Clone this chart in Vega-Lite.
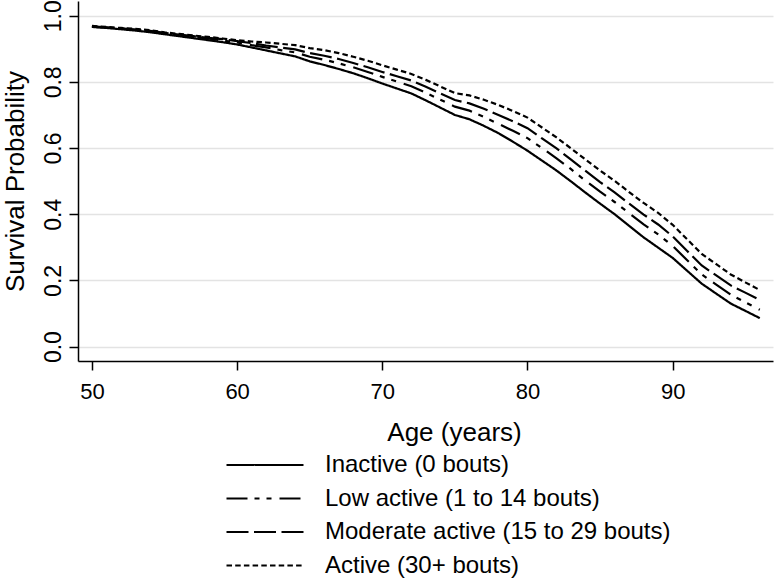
{
  "$schema": "https://vega.github.io/schema/vega-lite/v6.json",
  "width": 695,
  "height": 360,
  "autosize": {"type": "none"},
  "padding": {"left": 78, "top": 1, "right": 1, "bottom": 219},
  "background": "white",
  "config": {
    "font": "Liberation Sans",
    "view": {"stroke": null},
    "axis": {"labelColor": "black", "titleColor": "black", "domainColor": "black", "tickColor": "black", "titleFontWeight": "normal"}
  },
  "data": {
    "values": [
      {"age":50,"g":"Inactive (0 bouts)","s":0.966},{"age":51,"g":"Inactive (0 bouts)","s":0.963},{"age":52,"g":"Inactive (0 bouts)","s":0.959},{"age":53,"g":"Inactive (0 bouts)","s":0.955},{"age":54,"g":"Inactive (0 bouts)","s":0.950},{"age":55,"g":"Inactive (0 bouts)","s":0.944},{"age":56,"g":"Inactive (0 bouts)","s":0.938},{"age":57,"g":"Inactive (0 bouts)","s":0.932},{"age":58,"g":"Inactive (0 bouts)","s":0.926},{"age":59,"g":"Inactive (0 bouts)","s":0.920},{"age":60,"g":"Inactive (0 bouts)","s":0.913},{"age":61,"g":"Inactive (0 bouts)","s":0.904},{"age":62,"g":"Inactive (0 bouts)","s":0.895},{"age":63,"g":"Inactive (0 bouts)","s":0.886},{"age":64,"g":"Inactive (0 bouts)","s":0.877},{"age":65,"g":"Inactive (0 bouts)","s":0.862},{"age":66,"g":"Inactive (0 bouts)","s":0.851},{"age":67,"g":"Inactive (0 bouts)","s":0.839},{"age":68,"g":"Inactive (0 bouts)","s":0.826},{"age":69,"g":"Inactive (0 bouts)","s":0.811},{"age":70,"g":"Inactive (0 bouts)","s":0.795},{"age":71,"g":"Inactive (0 bouts)","s":0.780},{"age":72,"g":"Inactive (0 bouts)","s":0.765},{"age":73,"g":"Inactive (0 bouts)","s":0.744},{"age":74,"g":"Inactive (0 bouts)","s":0.722},{"age":75,"g":"Inactive (0 bouts)","s":0.700},{"age":76,"g":"Inactive (0 bouts)","s":0.687},{"age":77,"g":"Inactive (0 bouts)","s":0.667},{"age":78,"g":"Inactive (0 bouts)","s":0.645},{"age":79,"g":"Inactive (0 bouts)","s":0.619},{"age":80,"g":"Inactive (0 bouts)","s":0.592},{"age":81,"g":"Inactive (0 bouts)","s":0.562},{"age":82,"g":"Inactive (0 bouts)","s":0.532},{"age":83,"g":"Inactive (0 bouts)","s":0.499},{"age":84,"g":"Inactive (0 bouts)","s":0.465},{"age":85,"g":"Inactive (0 bouts)","s":0.432},{"age":86,"g":"Inactive (0 bouts)","s":0.400},{"age":87,"g":"Inactive (0 bouts)","s":0.365},{"age":88,"g":"Inactive (0 bouts)","s":0.330},{"age":89,"g":"Inactive (0 bouts)","s":0.299},{"age":90,"g":"Inactive (0 bouts)","s":0.268},{"age":91,"g":"Inactive (0 bouts)","s":0.229},{"age":92,"g":"Inactive (0 bouts)","s":0.190},{"age":93,"g":"Inactive (0 bouts)","s":0.160},{"age":94,"g":"Inactive (0 bouts)","s":0.130},{"age":95,"g":"Inactive (0 bouts)","s":0.108},{"age":96,"g":"Inactive (0 bouts)","s":0.086},

      {"age":50,"g":"Low active (1 to 14 bouts)","s":0.967},{"age":51,"g":"Low active (1 to 14 bouts)","s":0.964},{"age":52,"g":"Low active (1 to 14 bouts)","s":0.961},{"age":53,"g":"Low active (1 to 14 bouts)","s":0.957},{"age":54,"g":"Low active (1 to 14 bouts)","s":0.952},{"age":55,"g":"Low active (1 to 14 bouts)","s":0.947},{"age":56,"g":"Low active (1 to 14 bouts)","s":0.941},{"age":57,"g":"Low active (1 to 14 bouts)","s":0.936},{"age":58,"g":"Low active (1 to 14 bouts)","s":0.931},{"age":59,"g":"Low active (1 to 14 bouts)","s":0.925},{"age":60,"g":"Low active (1 to 14 bouts)","s":0.919},{"age":61,"g":"Low active (1 to 14 bouts)","s":0.911},{"age":62,"g":"Low active (1 to 14 bouts)","s":0.904},{"age":63,"g":"Low active (1 to 14 bouts)","s":0.896},{"age":64,"g":"Low active (1 to 14 bouts)","s":0.889},{"age":65,"g":"Low active (1 to 14 bouts)","s":0.876},{"age":66,"g":"Low active (1 to 14 bouts)","s":0.867},{"age":67,"g":"Low active (1 to 14 bouts)","s":0.856},{"age":68,"g":"Low active (1 to 14 bouts)","s":0.844},{"age":69,"g":"Low active (1 to 14 bouts)","s":0.830},{"age":70,"g":"Low active (1 to 14 bouts)","s":0.815},{"age":71,"g":"Low active (1 to 14 bouts)","s":0.801},{"age":72,"g":"Low active (1 to 14 bouts)","s":0.787},{"age":73,"g":"Low active (1 to 14 bouts)","s":0.767},{"age":74,"g":"Low active (1 to 14 bouts)","s":0.746},{"age":75,"g":"Low active (1 to 14 bouts)","s":0.725},{"age":76,"g":"Low active (1 to 14 bouts)","s":0.713},{"age":77,"g":"Low active (1 to 14 bouts)","s":0.694},{"age":78,"g":"Low active (1 to 14 bouts)","s":0.673},{"age":79,"g":"Low active (1 to 14 bouts)","s":0.652},{"age":80,"g":"Low active (1 to 14 bouts)","s":0.630},{"age":81,"g":"Low active (1 to 14 bouts)","s":0.600},{"age":82,"g":"Low active (1 to 14 bouts)","s":0.569},{"age":83,"g":"Low active (1 to 14 bouts)","s":0.536},{"age":84,"g":"Low active (1 to 14 bouts)","s":0.501},{"age":85,"g":"Low active (1 to 14 bouts)","s":0.468},{"age":86,"g":"Low active (1 to 14 bouts)","s":0.437},{"age":87,"g":"Low active (1 to 14 bouts)","s":0.403},{"age":88,"g":"Low active (1 to 14 bouts)","s":0.369},{"age":89,"g":"Low active (1 to 14 bouts)","s":0.339},{"age":90,"g":"Low active (1 to 14 bouts)","s":0.304},{"age":91,"g":"Low active (1 to 14 bouts)","s":0.261},{"age":92,"g":"Low active (1 to 14 bouts)","s":0.218},{"age":93,"g":"Low active (1 to 14 bouts)","s":0.187},{"age":94,"g":"Low active (1 to 14 bouts)","s":0.157},{"age":95,"g":"Low active (1 to 14 bouts)","s":0.134},{"age":96,"g":"Low active (1 to 14 bouts)","s":0.111},

      {"age":50,"g":"Moderate active (15 to 29 bouts)","s":0.968},{"age":51,"g":"Moderate active (15 to 29 bouts)","s":0.965},{"age":52,"g":"Moderate active (15 to 29 bouts)","s":0.962},{"age":53,"g":"Moderate active (15 to 29 bouts)","s":0.958},{"age":54,"g":"Moderate active (15 to 29 bouts)","s":0.954},{"age":55,"g":"Moderate active (15 to 29 bouts)","s":0.948},{"age":56,"g":"Moderate active (15 to 29 bouts)","s":0.943},{"age":57,"g":"Moderate active (15 to 29 bouts)","s":0.938},{"age":58,"g":"Moderate active (15 to 29 bouts)","s":0.933},{"age":59,"g":"Moderate active (15 to 29 bouts)","s":0.929},{"age":60,"g":"Moderate active (15 to 29 bouts)","s":0.923},{"age":61,"g":"Moderate active (15 to 29 bouts)","s":0.917},{"age":62,"g":"Moderate active (15 to 29 bouts)","s":0.910},{"age":63,"g":"Moderate active (15 to 29 bouts)","s":0.904},{"age":64,"g":"Moderate active (15 to 29 bouts)","s":0.898},{"age":65,"g":"Moderate active (15 to 29 bouts)","s":0.887},{"age":66,"g":"Moderate active (15 to 29 bouts)","s":0.879},{"age":67,"g":"Moderate active (15 to 29 bouts)","s":0.869},{"age":68,"g":"Moderate active (15 to 29 bouts)","s":0.857},{"age":69,"g":"Moderate active (15 to 29 bouts)","s":0.844},{"age":70,"g":"Moderate active (15 to 29 bouts)","s":0.830},{"age":71,"g":"Moderate active (15 to 29 bouts)","s":0.817},{"age":72,"g":"Moderate active (15 to 29 bouts)","s":0.804},{"age":73,"g":"Moderate active (15 to 29 bouts)","s":0.785},{"age":74,"g":"Moderate active (15 to 29 bouts)","s":0.765},{"age":75,"g":"Moderate active (15 to 29 bouts)","s":0.745},{"age":76,"g":"Moderate active (15 to 29 bouts)","s":0.735},{"age":77,"g":"Moderate active (15 to 29 bouts)","s":0.719},{"age":78,"g":"Moderate active (15 to 29 bouts)","s":0.700},{"age":79,"g":"Moderate active (15 to 29 bouts)","s":0.681},{"age":80,"g":"Moderate active (15 to 29 bouts)","s":0.660},{"age":81,"g":"Moderate active (15 to 29 bouts)","s":0.629},{"age":82,"g":"Moderate active (15 to 29 bouts)","s":0.599},{"age":83,"g":"Moderate active (15 to 29 bouts)","s":0.565},{"age":84,"g":"Moderate active (15 to 29 bouts)","s":0.531},{"age":85,"g":"Moderate active (15 to 29 bouts)","s":0.497},{"age":86,"g":"Moderate active (15 to 29 bouts)","s":0.466},{"age":87,"g":"Moderate active (15 to 29 bouts)","s":0.432},{"age":88,"g":"Moderate active (15 to 29 bouts)","s":0.399},{"age":89,"g":"Moderate active (15 to 29 bouts)","s":0.369},{"age":90,"g":"Moderate active (15 to 29 bouts)","s":0.333},{"age":91,"g":"Moderate active (15 to 29 bouts)","s":0.289},{"age":92,"g":"Moderate active (15 to 29 bouts)","s":0.245},{"age":93,"g":"Moderate active (15 to 29 bouts)","s":0.215},{"age":94,"g":"Moderate active (15 to 29 bouts)","s":0.185},{"age":95,"g":"Moderate active (15 to 29 bouts)","s":0.163},{"age":96,"g":"Moderate active (15 to 29 bouts)","s":0.141},

      {"age":50,"g":"Active (30+ bouts)","s":0.969},{"age":51,"g":"Active (30+ bouts)","s":0.966},{"age":52,"g":"Active (30+ bouts)","s":0.963},{"age":53,"g":"Active (30+ bouts)","s":0.960},{"age":54,"g":"Active (30+ bouts)","s":0.956},{"age":55,"g":"Active (30+ bouts)","s":0.950},{"age":56,"g":"Active (30+ bouts)","s":0.945},{"age":57,"g":"Active (30+ bouts)","s":0.940},{"age":58,"g":"Active (30+ bouts)","s":0.936},{"age":59,"g":"Active (30+ bouts)","s":0.931},{"age":60,"g":"Active (30+ bouts)","s":0.926},{"age":61,"g":"Active (30+ bouts)","s":0.922},{"age":62,"g":"Active (30+ bouts)","s":0.919},{"age":63,"g":"Active (30+ bouts)","s":0.915},{"age":64,"g":"Active (30+ bouts)","s":0.911},{"age":65,"g":"Active (30+ bouts)","s":0.902},{"age":66,"g":"Active (30+ bouts)","s":0.896},{"age":67,"g":"Active (30+ bouts)","s":0.887},{"age":68,"g":"Active (30+ bouts)","s":0.876},{"age":69,"g":"Active (30+ bouts)","s":0.864},{"age":70,"g":"Active (30+ bouts)","s":0.850},{"age":71,"g":"Active (30+ bouts)","s":0.837},{"age":72,"g":"Active (30+ bouts)","s":0.824},{"age":73,"g":"Active (30+ bouts)","s":0.806},{"age":74,"g":"Active (30+ bouts)","s":0.786},{"age":75,"g":"Active (30+ bouts)","s":0.766},{"age":76,"g":"Active (30+ bouts)","s":0.759},{"age":77,"g":"Active (30+ bouts)","s":0.746},{"age":78,"g":"Active (30+ bouts)","s":0.730},{"age":79,"g":"Active (30+ bouts)","s":0.712},{"age":80,"g":"Active (30+ bouts)","s":0.692},{"age":81,"g":"Active (30+ bouts)","s":0.662},{"age":82,"g":"Active (30+ bouts)","s":0.632},{"age":83,"g":"Active (30+ bouts)","s":0.599},{"age":84,"g":"Active (30+ bouts)","s":0.565},{"age":85,"g":"Active (30+ bouts)","s":0.532},{"age":86,"g":"Active (30+ bouts)","s":0.501},{"age":87,"g":"Active (30+ bouts)","s":0.467},{"age":88,"g":"Active (30+ bouts)","s":0.434},{"age":89,"g":"Active (30+ bouts)","s":0.404},{"age":90,"g":"Active (30+ bouts)","s":0.368},{"age":91,"g":"Active (30+ bouts)","s":0.324},{"age":92,"g":"Active (30+ bouts)","s":0.280},{"age":93,"g":"Active (30+ bouts)","s":0.249},{"age":94,"g":"Active (30+ bouts)","s":0.218},{"age":95,"g":"Active (30+ bouts)","s":0.194},{"age":96,"g":"Active (30+ bouts)","s":0.171}
    ]
  },
  "mark": {"type": "line", "color": "black", "strokeWidth": 2.2, "clip": true},
  "encoding": {
    "x": {
      "field": "age", "type": "quantitative",
      "scale": {"domain": [49.04, 96.91], "nice": false, "zero": false},
      "axis": {
        "values": [50, 60, 70, 80, 90], "grid": false,
        "labelFontSize": 22, "labelBaseline": "alphabetic", "labelPadding": 28,
        "tickSize": 9, "tickWidth": 1.5, "domainWidth": 1.5,
        "title": "Age (years)", "titleFontSize": 26, "titleX": 376, "titleY": 79,
        "titleBaseline": "alphabetic", "titleAlign": "center", "titleAnchor": null
      }
    },
    "y": {
      "field": "s", "type": "quantitative",
      "scale": {"domain": [-0.0436, 1.0444], "nice": false, "zero": false},
      "axis": {
        "values": [0, 0.2, 0.4, 0.6, 0.8, 1.0], "format": ".1f",
        "grid": true, "gridColor": "#e3e3e3", "gridWidth": 1.5,
        "labelFontSize": 23, "labelAngle": 270, "labelAlign": "center", "labelBaseline": "alphabetic", "labelPadding": 9,
        "tickSize": 9, "tickWidth": 1.5, "domainWidth": 1.5,
        "title": "Survival Probability", "titleFontSize": 26, "titleAngle": 270,
        "titleX": -55, "titleY": 180, "titleAlign": "center", "titleBaseline": "alphabetic", "titleAnchor": null
      }
    },
    "strokeDash": {
      "field": "g", "type": "nominal",
      "scale": {
        "domain": ["Inactive (0 bouts)", "Low active (1 to 14 bouts)", "Moderate active (15 to 29 bouts)", "Active (30+ bouts)"],
        "range": [[1, 0], [21, 7, 5, 7, 5, 8], [22, 5.5], [5.5, 3.2]]
      },
      "legend": {
        "title": null, "orient": "none", "legendX": 147, "legendY": 452,
        "symbolType": "stroke", "symbolSize": 5929, "symbolStrokeWidth": 2.2, "symbolStrokeColor": "black",
        "labelFontSize": 24, "labelColor": "black", "labelOffset": 20, "labelLimit": 0, "rowPadding": 9.5, "padding": 0,
        "encode": {
          "symbols": {"update": {"y": {"value": 12}}},
          "labels": {"update": {"y": {"value": 12}}}
        }
      }
    }
  }
}
